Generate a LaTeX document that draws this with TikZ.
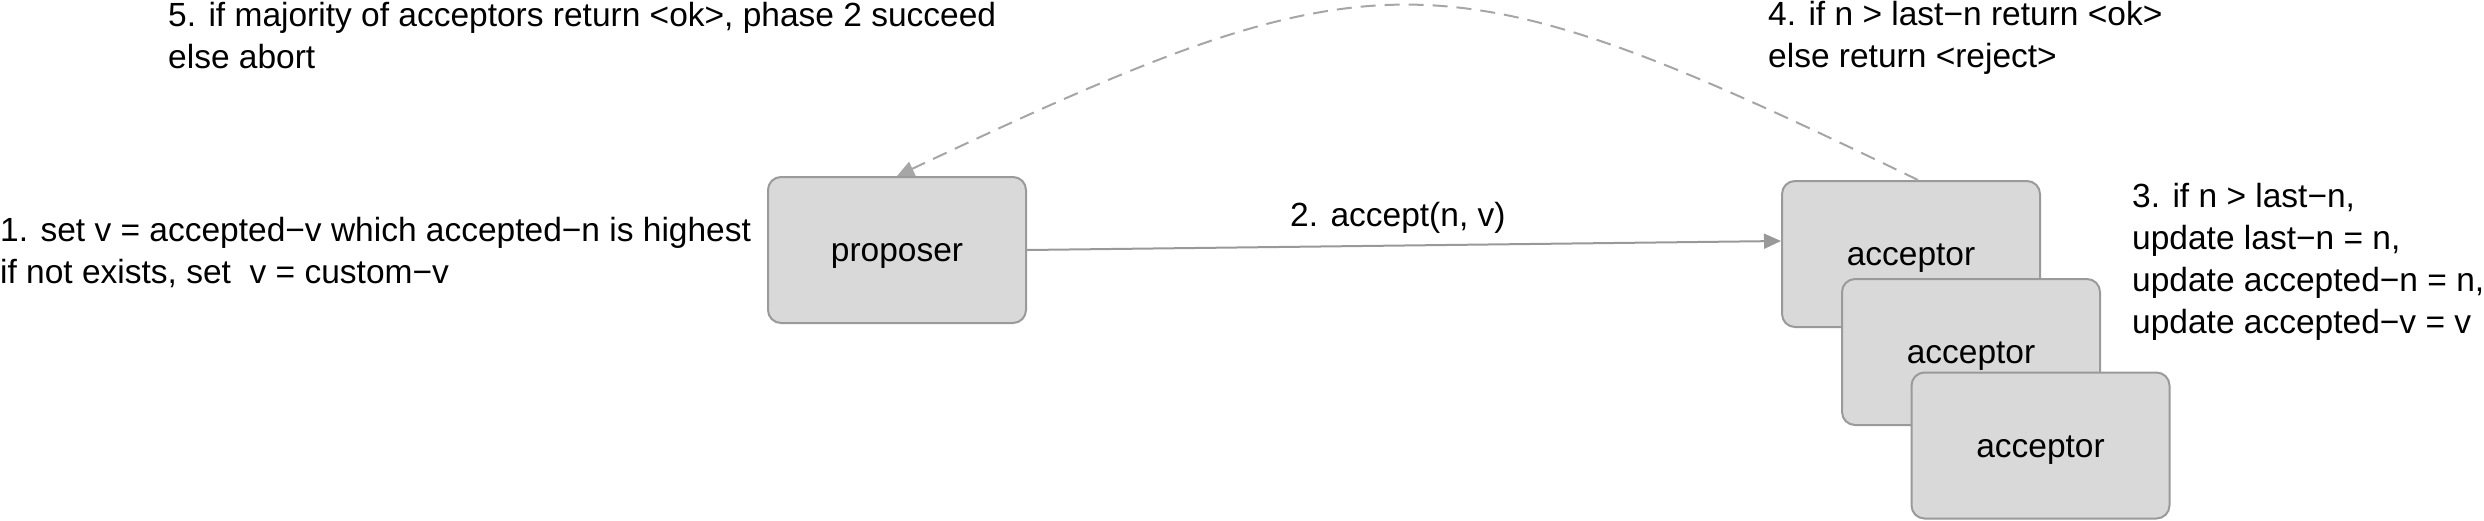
\documentclass[tikz,border=0pt]{standalone}
\usepackage{fontspec}
\setmainfont{Liberation Sans}
\usetikzlibrary{arrows.meta}
\definecolor{boxfill}{HTML}{D9D9D9}
\definecolor{boxline}{HTML}{9A9A9A}
\definecolor{arrowgray}{HTML}{999999}
\definecolor{dashgray}{HTML}{A6A6A6}
\begin{document}
\begin{tikzpicture}[x=1pt,y=-1pt,
  every node/.style={font=\fontsize{33.5}{41.7}\selectfont, text=black},
  box/.style={draw=boxline, fill=boxfill, line width=2pt, rounded corners=13pt,
    minimum width=258pt, minimum height=146pt, text height=23.5pt, text depth=0pt, inner sep=0pt},
  lbl/.style={anchor=base west, inner sep=0pt, align=left},
  flow/.style={draw=arrowgray, line width=2pt, -{Triangle[length=17pt,width=15pt]}},
  ret/.style={draw=dashgray, line width=2pt, dash pattern=on 15pt off 9pt, -{Triangle[length=17pt,width=15pt]}}]
\useasboundingbox (0,0) rectangle (2484,520);
\node[box] (prop) at (897,250) {proposer};
\node[box] (acc1) at (1911,254) {acceptor};
\node[box] (acc2) at (1971,352) {acceptor};
\node[box] (acc3) at (2040.5,445.5) {acceptor};
\draw[flow] (prop.east) -- ([yshift=13pt]acc1.west);
\draw[ret] ([xshift=7pt]acc1.north) .. controls (1438,-52) and (1380,-52) .. (prop.north);
\node[lbl] (t5) at (168,68) {5. if majority of acceptors return <ok>, phase 2 succeed\\else abort};
\node[lbl] (t4) at (1768,67) {4. if n > last−n return <ok>\\else return <reject>};
\node[lbl] (t2) at (1290,226) {2. accept(n, v)};
\node[lbl] (t1) at (0,283) {1. set v = accepted−v which accepted−n is highest\\if not exists, set\ \ v = custom−v};
\node[lbl] (t3) at (2132,333) {3. if n > last−n,\\update last−n = n,\\update accepted−n = n,\\update accepted−v = v};
\end{tikzpicture}
\end{document}
